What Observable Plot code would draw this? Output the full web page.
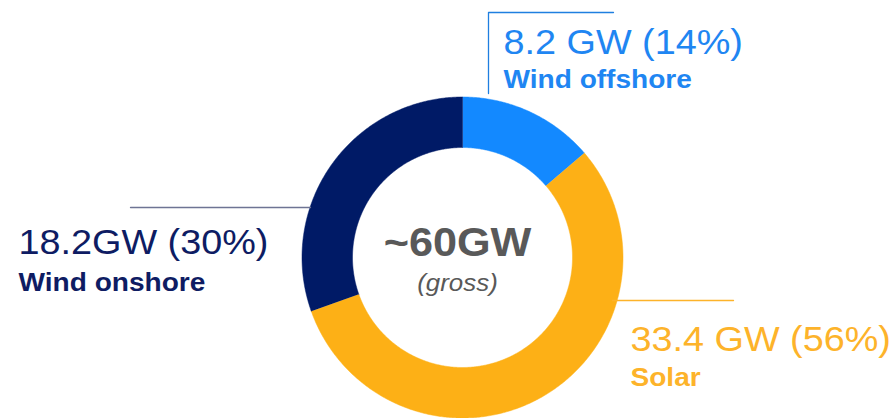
<!DOCTYPE html>
<html><head><meta charset="utf-8">
<script src="https://cdn.jsdelivr.net/npm/d3@7"></script>
<script src="https://cdn.jsdelivr.net/npm/@observablehq/plot@0.6"></script>
<style>
html,body{margin:0;padding:0;background:#fff;}
</style></head>
<body><div id="chart"></div>
<script>
// ---- data ----
const categories = ["Wind offshore", "Solar", "Wind onshore"];
const capacityGW = [8.2, 33.4, 18.2];
const sharePct = [14, 56, 30];
const valueLabels = ["8.2 GW (14%)", "33.4 GW (56%)", "18.2GW (30%)"];
const centerTitle = "~60GW";
const centerSubtitle = "(gross)";

// ---- styles / layout ----
const sliceColors = ["#1389FF", "#FDB016", "#001A66"];
const textColors = ["#1F86F2", "#FDB32A", "#0E1C63"];
const leaderColors = ["#1F7FE0", "#FDB32A", "#6E7494"];
const font = "Liberation Sans, Arial, sans-serif";
const W = 895, H = 418;
const cx = 462, cy = 257, rOuter = 160.5, rInner = 110;
const textStretch = 1.08;

// slice polygons computed from values
const total = d3.sum(capacityGW);
const slicePts = [];
let acc = 0;
categories.forEach((c, i) => {
  const a0 = acc / total * 2 * Math.PI;
  acc += capacityGW[i];
  const a1 = acc / total * 2 * Math.PI;
  const n = Math.max(2, Math.ceil((a1 - a0) / (Math.PI / 360)));
  const outer = d3.range(n + 1).map(k => a0 + (a1 - a0) * k / n);
  outer.forEach(a => slicePts.push({cat: c, x: cx + rOuter * Math.sin(a), y: cy - rOuter * Math.cos(a)}));
  outer.slice().reverse().forEach(a => slicePts.push({cat: c, x: cx + rInner * Math.sin(a), y: cy - rInner * Math.cos(a)}));
});

// leader lines (layout)
const leaders = [
  {cat: categories[0], pts: [[613, 12], [488, 12], [488, 93]]},
  {cat: categories[1], pts: [[612, 300], [733, 300]]},
  {cat: categories[2], pts: [[130, 207], [310, 207]]}
];
const leaderPts = leaders.flatMap(l => l.pts.map(([x, y]) => ({cat: l.cat, x, y})));

// label anchors (layout): value label baseline & name baseline
const labelPos = [
  {x: 503, y1: 53, y2: 87},
  {x: 630, y1: 350, y2: 385},
  {x: 18, y1: 253, y2: 290}
];
const labels = categories.map((c, i) => ({cat: c, value: valueLabels[i], x: labelPos[i].x, y1: labelPos[i].y1, y2: labelPos[i].y2}));

const colorScale = {domain: categories, range: sliceColors};
const tcx = 457;

const chart = Plot.plot({
  width: W, height: H,
  margin: 0,
  x: {domain: [0, W], range: [0, W], axis: null},
  y: {domain: [0, H], range: [0, H], axis: null},
  color: colorScale,
  style: {background: "#fff", fontFamily: font},
  marks: [
    Plot.line(slicePts, {x: "x", y: "y", z: "cat", fill: "cat", stroke: "cat", strokeWidth: 0.5, curve: "linear"}),
    ...leaders.map((l, i) => Plot.line(leaderPts.filter(d => d.cat === l.cat), {x: "x", y: "y", stroke: leaderColors[i], strokeWidth: 1.3})),
    ...labels.map((d, i) => Plot.text([d], {x: "x", y: "y1", text: "value", textAnchor: "start", lineAnchor: "bottom", fill: textColors[i], fontSize: 35, fontFamily: font})),
    ...labels.map((d, i) => Plot.text([d], {x: "x", y: "y2", text: "cat", textAnchor: "start", lineAnchor: "bottom", fill: textColors[i], fontSize: 26, fontWeight: "bold", fontFamily: font})),
    Plot.text([centerTitle], {x: tcx, y: 255, text: d => d, textAnchor: "middle", lineAnchor: "bottom", fill: "#595959", fontSize: 40, fontWeight: "bold", fontFamily: font}),
    Plot.text([centerSubtitle], {x: tcx, y: 290, text: d => d, textAnchor: "middle", lineAnchor: "bottom", fill: "#595959", fontSize: 24, fontStyle: "italic", fontFamily: font})
  ]
});
// stretch text horizontally around its anchor (source artwork uses wider glyphs)
d3.select(chart).selectAll("text").each(function() {
  const t = this.getAttribute("transform");
  if (t) this.setAttribute("transform", t + ` scale(${textStretch},1)`);
});
document.getElementById("chart").appendChild(chart);
</script>
</body></html>
